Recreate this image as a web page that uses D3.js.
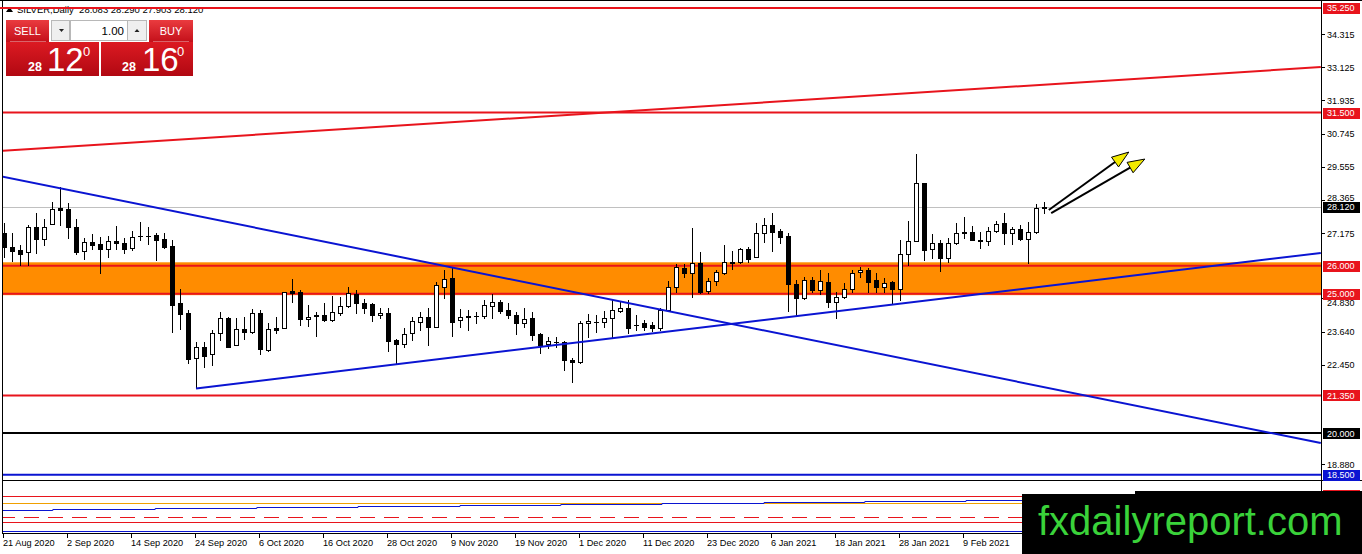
<!DOCTYPE html>
<html lang="en">
<head>
<meta charset="utf-8">
<title>SILVER,Daily</title>
<script src="https://cdn.jsdelivr.net/npm/d3@7" type="text/javascript"></script>
<style>
  body { margin: 0; background: #fff; overflow: hidden; }
  svg { display: block; font-family: "Liberation Sans", Arial, sans-serif; }
</style>
</head>
<body>

<svg id="chart" width="1362" height="554"></svg>

<script>

// daily bars, 21 Aug 2020 .. 17 Feb 2021
var opens = [27.17,26.69,26.57,26.48,27.40,26.95,27.49,28.06,28.03,27.38,
             26.52,26.84,26.77,26.59,26.89,26.81,26.65,27.07,27.08,27.10,
             26.95,26.71,24.68,24.30,22.70,23.07,22.82,23.58,24.12,23.15,
             23.73,23.63,24.29,22.98,23.76,23.78,25.08,25.05,24.08,24.23,
             24.23,24.05,24.32,24.56,24.99,24.67,24.63,24.23,24.32,23.34,
             23.18,23.58,23.99,24.17,23.81,25.25,25.57,24.04,24.20,24.20,
             24.20,24.57,24.69,24.41,24.25,23.96,24.14,23.55,23.18,23.28,
             23.26,22.62,22.56,23.94,23.99,23.97,24.11,24.38,24.49,23.87,
             23.94,23.87,23.76,24.41,25.25,25.93,25.73,26.09,25.11,25.45,
             25.73,26.14,26.12,26.59,26.30,27.17,27.46,27.25,27.07,25.35,
             24.83,25.49,25.13,25.43,24.69,24.87,25.17,25.77,25.85,25.49,
             25.25,25.43,25.17,26.41,26.90,28.96,26.59,26.81,26.27,26.83,
             27.19,27.20,26.94,26.90,27.26,27.52,27.17,27.31,26.95,27.20,
             28.083];
var highs = [27.52,27.17,26.75,27.46,27.88,27.67,28.30,28.84,28.24,27.67,
             26.99,27.13,27.02,27.07,27.43,26.99,27.25,27.56,27.40,27.19,
             27.19,26.93,25.16,24.41,23.28,23.28,23.70,24.35,24.17,24.11,
             24.15,24.44,24.41,23.94,24.15,25.07,25.53,25.13,24.59,24.35,
             24.65,24.92,24.87,25.25,25.13,24.80,24.65,24.47,24.50,23.36,
             23.76,24.15,24.35,24.47,25.43,25.85,25.97,24.44,24.41,24.33,
             24.77,24.98,24.77,24.65,24.35,24.47,24.35,23.58,23.46,23.46,
             23.30,22.68,24.02,24.26,24.23,24.38,24.77,24.71,24.77,24.23,
             24.05,23.99,24.49,25.45,26.06,26.05,27.35,26.51,25.55,25.85,
             26.75,26.54,26.63,26.66,27.52,27.70,27.88,27.31,27.17,25.49,
             25.59,25.61,25.85,25.74,25.07,25.39,25.85,25.97,25.93,25.73,
             25.57,25.45,26.93,27.61,30.00,28.98,27.13,26.93,26.99,27.52,
             27.74,27.44,27.22,27.40,27.61,27.88,27.40,27.46,27.56,28.21,
             28.290];
var lows = [26.32,26.18,26.03,26.03,26.45,26.76,27.49,27.46,26.99,26.41,
            26.23,26.60,25.75,26.33,26.60,26.47,26.57,26.93,26.78,26.21,
            26.63,23.64,23.73,22.52,21.60,22.36,22.44,23.34,23.07,23.15,
            23.37,23.60,22.82,22.95,23.60,23.76,24.71,23.87,23.84,23.48,
            24.02,24.03,24.23,24.53,24.29,24.32,24.02,24.12,22.95,22.50,
            23.10,23.34,23.70,23.16,23.81,24.83,23.49,23.81,23.70,23.96,
            24.11,24.11,24.29,24.12,23.56,23.81,23.34,22.86,23.04,23.10,
            22.26,21.82,22.50,23.45,23.63,23.81,23.45,24.35,23.59,23.70,
            23.70,23.66,23.70,24.41,25.07,25.59,24.89,25.03,25.03,25.31,
            25.70,25.87,26.09,26.14,26.30,26.86,26.54,26.83,24.39,24.23,
            24.81,25.07,24.98,24.51,24.12,24.86,25.05,25.59,25.07,25.07,
            25.07,24.65,24.77,26.03,26.88,26.21,26.27,25.81,26.14,26.79,
            26.99,26.92,26.63,26.75,27.22,26.77,26.79,26.93,26.10,27.18,
            27.903];
var closes = [26.69,26.54,26.43,27.40,26.95,27.40,28.03,28.01,27.38,26.51,
              26.84,26.76,26.59,26.89,26.81,26.61,27.04,27.08,27.06,26.94,
              26.69,24.59,24.27,22.66,23.07,22.77,23.58,24.12,23.10,23.72,
              23.63,24.29,23.00,23.72,23.70,25.07,25.01,24.08,24.17,24.20,
              24.05,24.34,24.56,25.03,24.65,24.50,24.23,24.32,23.31,23.18,
              23.54,24.02,24.17,23.81,25.31,25.53,23.99,24.15,24.15,24.19,
              24.59,24.69,24.39,24.23,23.96,24.09,23.52,23.16,23.30,23.27,
              22.62,22.56,23.94,24.02,24.00,24.14,24.41,24.49,23.77,23.88,
              23.81,23.76,24.41,25.25,25.97,25.73,26.09,25.07,25.45,25.77,
              26.14,26.11,26.59,26.23,27.17,27.46,27.22,27.04,25.35,24.83,
              25.49,25.13,25.45,24.70,24.89,25.17,25.73,25.85,25.41,25.25,
              25.37,25.17,26.41,26.90,28.96,26.57,26.81,26.27,26.83,27.19,
              27.20,26.93,26.90,27.26,27.49,27.17,27.31,26.95,27.20,28.06,
              28.120];

var dateLabels = ['21 Aug 2020', '2 Sep 2020', '14 Sep 2020', '24 Sep 2020',
                  '6 Oct 2020', '16 Oct 2020', '28 Oct 2020', '9 Nov 2020',
                  '19 Nov 2020', '1 Dec 2020', '11 Dec 2020', '23 Dec 2020',
                  '6 Jan 2021', '18 Jan 2021', '28 Jan 2021', '9 Feb 2021'];
var labelEvery = 8;   // one date label every 8 bars

// price scale labels (the ones not hidden behind a level box)
var priceTicks = [34.315, 33.125, 31.935, 30.745, 29.555, 28.365, 27.175,
                  24.830, 23.640, 22.450, 18.880];

// horizontal levels
var redLevels = [35.25, 31.5, 21.35];
var zone = [25.0, 26.0];
var blackLevels = [20.0];
var blueLevels = [18.5];
var lastPrice = 28.12;

// trend lines as [bar, price] pairs
var channelLine = [[-0.5, 30.12], [164.6, 33.13]];
var downLine = [[-0.5, 29.22], [164.6, 19.64]];
var upLine = [[24, 21.60], [164.6, 26.46]];
var arrows = [[[130.6, 28.00], [140.6, 30.08]],
              [[130.9, 27.89], [142.6, 29.83]]];

// indicator sub window (0..100)
var indRed = [100, 25];
var indOrange = [79];
var indDashed = [39];
var indBlue = [0];
var stepStarts = [-0.5, 6.1, 18.9, 31.6, 44.25, 57, 69.6, 82.25, 95, 107.6, 120.25, 164.6];
var stepValues = [60, 62.9, 65.7, 68.6, 71.4, 74.3, 77.1, 80, 82, 84.9, 87.7, 87.7];

// header / trade panel
var symbolText = 'SILVER,Daily  28.083 28.290 27.903 28.120';
var sellQuote = ['28', '12', '0'];
var buyQuote = ['28', '16', '0'];
var lotSize = '1.00';
var watermark = 'fxdailyreport.com';


var plotRight = 1321;
var mainBottom = 480;
var axisY = 533;

var svg = d3.select('#chart');

var x = d3.scaleLinear().domain([-0.5, 164.625]).range([0, plotRight]);
var y = d3.scaleLinear().domain([18.314, 35.537]).range([mainBottom, 0]);
var yInd = d3.scaleLinear().domain([0, 100]).range([531, 496]);

var defs = svg.append('defs');
defs.append('clipPath').attr('id', 'clipMain')
    .append('rect').attr('x', 3).attr('y', 0).attr('width', plotRight - 3).attr('height', mainBottom);
defs.append('clipPath').attr('id', 'clipInd')
    .append('rect').attr('x', 3).attr('y', mainBottom + 1).attr('width', plotRight - 3).attr('height', axisY - mainBottom - 1);

var grad = defs.append('linearGradient').attr('id', 'btnRed')
    .attr('x1', 0).attr('y1', 0).attr('x2', 0).attr('y2', 1);
grad.append('stop').attr('offset', '0%').attr('stop-color', '#ea3b3f');
grad.append('stop').attr('offset', '100%').attr('stop-color', '#c4101a');
var grad2 = defs.append('linearGradient').attr('id', 'quoteRed')
    .attr('x1', 0).attr('y1', 0).attr('x2', 0).attr('y2', 1);
grad2.append('stop').attr('offset', '0%').attr('stop-color', '#dc1a22');
grad2.append('stop').attr('offset', '100%').attr('stop-color', '#b10812');

svg.append('rect').attr('width', 1362).attr('height', 554).attr('fill', '#fff');

var main = svg.append('g').attr('clip-path', 'url(#clipMain)');

function hy(p) { return Math.round(y(p)) + 0.5; }

// support / resistance zone
main.append('rect')
    .attr('x', 0).attr('width', plotRight)
    .attr('y', y(zone[1]) - 3.5)
    .attr('height', y(zone[0]) - y(zone[1]) + 5)
    .attr('fill', '#ff8c00');

main.append('line')
    .attr('x1', 0).attr('x2', plotRight)
    .attr('y1', hy(lastPrice)).attr('y2', hy(lastPrice))
    .attr('stroke', '#c0c0c0').attr('stroke-width', 1);

function hline(levels, color) {
    main.selectAll(null).data(levels).enter().append('line')
        .attr('x1', 0).attr('x2', plotRight)
        .attr('y1', d => y(d)).attr('y2', d => y(d))
        .attr('stroke', color).attr('stroke-width', 2);
}
hline(redLevels, '#e8141c');
hline(zone, '#e8141c');
hline(blackLevels, '#000');
hline(blueLevels, '#0a14d2');

// candles
var bars = d3.range(opens.length);
var candle = main.selectAll('g.bar').data(bars).enter().append('g')
    .attr('class', 'bar')
    .attr('shape-rendering', 'crispEdges');

candle.append('line')
    .attr('x1', i => x(i) + 0.5).attr('x2', i => x(i) + 0.5)
    .attr('y1', i => Math.round(y(highs[i])))
    .attr('y2', i => Math.round(y(lows[i])) + 1)
    .attr('stroke', '#000');

candle.append('rect')
    .attr('x', i => x(i) - 1.5)
    .attr('width', 4)
    .attr('y', i => Math.round(y(Math.max(opens[i], closes[i]))) + 0.5)
    .attr('height', i => Math.max(0.01, Math.round(y(Math.min(opens[i], closes[i]))) - Math.round(y(Math.max(opens[i], closes[i])))))
    .attr('fill', i => closes[i] >= opens[i] ? '#fff' : '#000')
    .attr('stroke', '#000');

// trend lines
var line = d3.line().x(d => x(d[0])).y(d => y(d[1]));
main.append('path').attr('d', line(channelLine)).attr('fill', 'none')
    .attr('stroke', '#e8141c').attr('stroke-width', 2);
main.append('path').attr('d', line(downLine)).attr('fill', 'none')
    .attr('stroke', '#0a14d2').attr('stroke-width', 2);
main.append('path').attr('d', line(upLine)).attr('fill', 'none')
    .attr('stroke', '#0a14d2').attr('stroke-width', 2);

// arrows
arrows.forEach(function(a) {
    var x0 = x(a[0][0]), y0 = y(a[0][1]);
    var x1 = x(a[1][0]), y1 = y(a[1][1]);
    var len = Math.sqrt((x1 - x0) * (x1 - x0) + (y1 - y0) * (y1 - y0));
    var ux = (x1 - x0) / len, uy = (y1 - y0) / len;
    var bx = x1 - ux * 17, by = y1 - uy * 17;
    main.append('line')
        .attr('x1', x0).attr('y1', y0).attr('x2', bx).attr('y2', by)
        .attr('stroke', '#000').attr('stroke-width', 2);
    main.append('path')
        .attr('d', 'M' + x1 + ',' + y1 +
                   'L' + (bx - uy * 6) + ',' + (by + ux * 6) +
                   'L' + (bx + uy * 6) + ',' + (by - ux * 6) + 'Z')
        .attr('fill', '#f2ea00').attr('stroke', '#000').attr('stroke-width', 1);
});

// indicator window
var ind = svg.append('g').attr('clip-path', 'url(#clipInd)');
function iline(levels, color, dash) {
    ind.selectAll(null).data(levels).enter().append('line')
        .attr('x1', 0).attr('x2', plotRight)
        .attr('y1', d => Math.round(yInd(d)) + 0.5).attr('y2', d => Math.round(yInd(d)) + 0.5)
        .attr('stroke', color).attr('stroke-width', 1)
        .attr('stroke-dasharray', dash || null);
}
iline(indRed, '#e8141c');
iline(indOrange, '#f0a000');
iline(indDashed, '#e8141c', '15,9');
iline(indBlue, '#0a14d2');

var step = d3.line().curve(d3.curveStepAfter)
    .x((d, i) => x(stepStarts[i]))
    .y(d => Math.round(yInd(d)) + 0.5);
ind.append('path').attr('d', step(stepValues)).attr('fill', 'none')
    .attr('stroke', '#0a14d2').attr('stroke-width', 1);

// frame
var frame = svg.append('g').attr('stroke', '#000').attr('stroke-width', 1).attr('shape-rendering', 'crispEdges');
frame.append('line').attr('x1', 2.5).attr('x2', 2.5).attr('y1', 0).attr('y2', axisY);
frame.append('line').attr('x1', plotRight + 0.5).attr('x2', plotRight + 0.5).attr('y1', 0).attr('y2', axisY);
frame.append('line').attr('x1', 0).attr('x2', 1362).attr('y1', 0.5).attr('y2', 0.5);
frame.append('line').attr('x1', 2).attr('x2', 1362).attr('y1', mainBottom + 0.5).attr('y2', mainBottom + 0.5);
frame.append('line').attr('x1', 2).attr('x2', plotRight).attr('y1', axisY + 0.5).attr('y2', axisY + 0.5);

// price axis
var pAxis = svg.append('g').attr('font-size', '9px');
pAxis.selectAll('line.tk').data(priceTicks).enter().append('line')
    .attr('x1', plotRight).attr('x2', plotRight + 4)
    .attr('y1', d => hy(d)).attr('y2', d => hy(d))
    .attr('stroke', '#000').attr('shape-rendering', 'crispEdges');
// labels that sit next to a level box are nudged clear of it
function tickY(d) {
    if (Math.abs(d - lastPrice) < 0.3) return y(d) + 1;
    if (Math.abs(d - zone[0]) < 0.3) return y(d) + 8;
    return y(d) + 3.5;
}
pAxis.selectAll('text.tk').data(priceTicks).enter().append('text')
    .attr('x', plotRight + 6).attr('y', tickY)
    .attr('fill', '#000').text(d => d.toFixed(3));

function priceBox(levels, color) {
    var g = pAxis.selectAll(null).data(levels).enter().append('g');
    g.append('rect')
        .attr('x', plotRight + 2).attr('y', d => Math.round(y(d)) - 5)
        .attr('width', 37).attr('height', 11).attr('fill', color);
    g.append('text')
        .attr('x', plotRight + 6).attr('y', d => y(d) + 3.5)
        .attr('fill', '#fff').text(d => d.toFixed(3));
}
priceBox(redLevels, '#e8141c');
priceBox(zone, '#e8141c');
priceBox([lastPrice], '#000');
priceBox(blackLevels, '#000');
priceBox(blueLevels, '#0a14d2');

// indicator level box (mostly under the watermark)
svg.append('rect').attr('x', plotRight + 2).attr('y', yInd(indRed[0]) - 6)
    .attr('width', 37).attr('height', 11).attr('fill', '#e8141c');

// time axis
var tAxis = svg.append('g').attr('font-size', '9.2px');
var tickBars = dateLabels.map((d, k) => k * labelEvery);
tAxis.selectAll('line').data(tickBars).enter().append('line')
    .attr('x1', i => Math.round(x(i)) - 0.5).attr('x2', i => Math.round(x(i)) - 0.5)
    .attr('y1', axisY).attr('y2', axisY + 5)
    .attr('stroke', '#000').attr('shape-rendering', 'crispEdges');
tAxis.selectAll('text').data(tickBars).enter().append('text')
    .attr('x', i => Math.max(3, x(i) - 1)).attr('y', 546)
    .attr('fill', '#000').text((i, k) => dateLabels[k]);

// header
svg.append('path').attr('d', 'M6,12 L9.5,7 L13,12 Z').attr('fill', '#000');
svg.append('text').attr('x', 17).attr('y', 13).attr('font-size', '9.5px')
    .attr('fill', '#000').attr('xml:space', 'preserve').text(symbolText);
// red level line runs over the header text
svg.append('line').attr('x1', 0).attr('x2', plotRight).attr('y1', y(redLevels[0])).attr('y2', y(redLevels[0]))
    .attr('stroke', '#e8141c').attr('stroke-width', 2);

// one click trading panel
var tp = svg.append('g');
tp.append('rect').attr('x', 6).attr('y', 20).attr('width', 43).attr('height', 22).attr('fill', 'url(#btnRed)');
tp.append('rect').attr('x', 149).attr('y', 20).attr('width', 44).attr('height', 22).attr('fill', 'url(#btnRed)');
tp.append('rect').attr('x', 10).attr('y', 41).attr('width', 36).attr('height', 1).attr('fill', 'rgba(255,255,255,0.35)');
tp.append('rect').attr('x', 153).attr('y', 41).attr('width', 36).attr('height', 1).attr('fill', 'rgba(255,255,255,0.35)');
tp.append('text').attr('x', 27.5).attr('y', 35).attr('text-anchor', 'middle')
    .attr('font-size', '11px').attr('fill', '#fff').text('SELL');
tp.append('text').attr('x', 171).attr('y', 35).attr('text-anchor', 'middle')
    .attr('font-size', '11px').attr('fill', '#fff').text('BUY');

tp.append('rect').attr('x', 51.5).attr('y', 20.5).attr('width', 18).attr('height', 20)
    .attr('fill', '#efefef').attr('stroke', '#b8b8b8');
tp.append('rect').attr('x', 70.5).attr('y', 20.5).attr('width', 57).attr('height', 20)
    .attr('fill', '#fff').attr('stroke', '#b8b8b8');
tp.append('rect').attr('x', 127.5).attr('y', 20.5).attr('width', 19).attr('height', 20)
    .attr('fill', '#efefef').attr('stroke', '#b8b8b8');
tp.append('path').attr('d', 'M59,29 L64,29 L61.5,32 Z').attr('fill', '#222');
tp.append('path').attr('d', 'M134.5,32 L139.5,32 L137,29 Z').attr('fill', '#222');
tp.append('text').attr('x', 124).attr('y', 34.5).attr('text-anchor', 'end')
    .attr('font-size', '11.5px').attr('fill', '#000').text(lotSize);

function quoteBox(x0, w, q, xs) {
    tp.append('rect').attr('x', x0).attr('y', 42).attr('width', w).attr('height', 34).attr('fill', 'url(#quoteRed)');
    tp.append('text').attr('x', xs[0]).attr('y', 71).attr('font-size', '12.5px')
        .attr('font-weight', 'bold').attr('fill', '#fff').text(q[0]);
    tp.append('text').attr('x', xs[1]).attr('y', 71).attr('font-size', '33px')
        .attr('fill', '#fff').text(q[1]);
    tp.append('text').attr('x', xs[2]).attr('y', 56).attr('font-size', '13px')
        .attr('fill', '#fff').text(q[2]);
}
quoteBox(6, 93, sellQuote, [28, 47, 83]);
quoteBox(101, 92, buyQuote, [122, 142, 177]);

// watermark
svg.append('rect').attr('x', 1022).attr('y', 494).attr('width', 340).attr('height', 60).attr('fill', '#000');
svg.append('rect').attr('x', 1135).attr('y', 491).attr('width', 227).attr('height', 63).attr('fill', '#000');
svg.append('text').attr('x', 1038).attr('y', 535).attr('font-size', '40px')
    .attr('fill', '#3ad23a').text(watermark);

</script>

</body>
</html>
